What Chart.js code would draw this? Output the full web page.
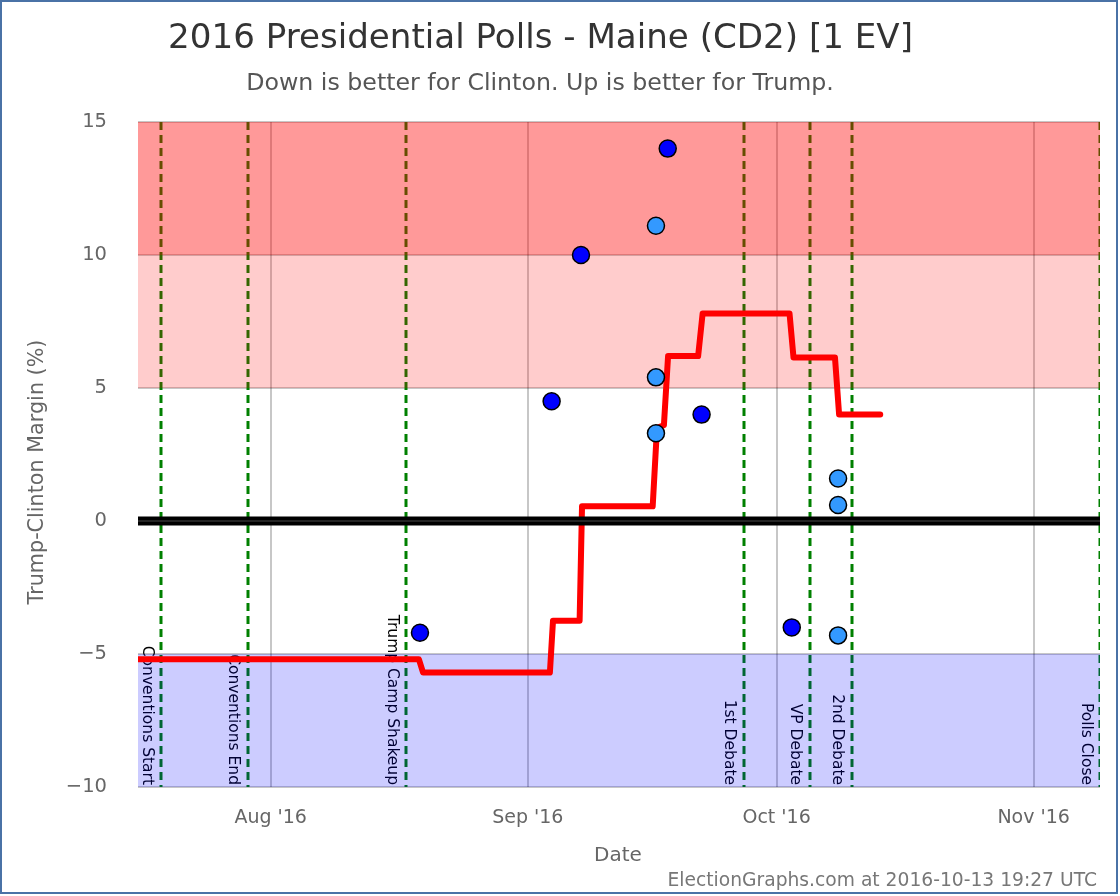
<!DOCTYPE html>
<html><head><meta charset="utf-8">
<script src="https://cdn.jsdelivr.net/npm/chart.js@4.4.1/dist/chart.umd.min.js"></script>
<style>
html,body{margin:0;padding:0;background:#fff;}
#wrap{position:absolute;left:0;top:0;width:1114px;height:890px;border:2px solid #4a72a6;background:#fff;}
canvas{display:block;}
</style></head><body>
<div id="wrap"><canvas id="c" width="1114" height="890"></canvas></div>
<script>
// ---- data ----
const chartTitle = '2016 Presidential Polls - Maine (CD2) [1 EV]';
const chartSubtitle = 'Down is better for Clinton. Up is better for Trump.';
const yAxisTitle = 'Trump-Clinton Margin (%)';
const xAxisTitle = 'Date';
const footerText = 'ElectionGraphs.com at 2016-10-13 19:27 UTC';

const xStart = '2016-07-16T00:00';
const xEnd = '2016-11-09T00:00';
const tickDates = ['2016-08-01T00:00','2016-09-01T00:00','2016-10-01T00:00','2016-11-01T00:00'];
const tickLabels = ["Aug '16","Sep '16","Oct '16","Nov '16"];
const yTicks = [-10,-5,0,5,10,15];

const avgDates = ['2016-07-16T00:00','2016-08-18T21:00','2016-08-19T09:00','2016-09-03T16:00','2016-09-04T01:00','2016-09-07T06:00','2016-09-07T13:00','2016-09-16T01:30','2016-09-16T14:00','2016-09-17T10:00','2016-09-17T22:00','2016-09-21T13:00','2016-09-22T02:00','2016-10-02T13:30','2016-10-03T01:00','2016-10-08T01:00','2016-10-08T13:00','2016-10-13T12:00'];
const avgMargins = [-5.2,-5.2,-5.7,-5.7,-3.75,-3.75,0.55,0.55,3.5,3.6,6.2,6.2,7.8,7.8,6.15,6.15,4.0,4.0];

const pollDatesA = ['2016-08-19T00:00','2016-09-03T21:00','2016-09-07T10:00','2016-09-17T21:00','2016-09-21T23:00','2016-10-02T20:00'];
const pollMarginsA = [-4.2,4.5,10,14,4,-4];
const pollDatesB = ['2016-09-16T11:00','2016-09-16T11:00','2016-09-16T11:00','2016-10-08T10:00','2016-10-08T10:00','2016-10-08T10:00'];
const pollMarginsB = [11.1,5.4,3.3,1.6,0.6,-4.3];

const eventDates = ['2016-07-18T20:00','2016-07-29T06:00','2016-08-17T08:00','2016-09-27T01:00','2016-10-05T00:00','2016-10-10T02:00','2016-11-09T00:00'];
const eventNames = ['Conventions Start','Conventions End','Trump Camp Shakeup','1st Debate','VP Debate','2nd Debate','Polls Close'];

const bandLows = [10,5,-10];
const bandHighs = [15,10,-5];

// ---- helpers ----
const T0 = Date.UTC(2016,6,16);
const toDay = s => (Date.parse(s + 'Z') - T0) / 864e5;
const xy = (ds, vs) => ds.map((d,i) => ({x: toDay(d), y: vs[i]}));
const FONT = '"DejaVu Sans", Verdana, sans-serif';
const tickDays = tickDates.map(toDay);

function fitFont(ctx, text, width, base) {
  ctx.font = base + 'px ' + FONT;
  const w = ctx.measureText(text).width;
  return (base * width / w);
}

const decor = {
  id: 'decor',
  beforeDatasetsDraw(chart) {
    const {ctx, chartArea: a, scales: {x, y}} = chart;
    ctx.save();
    ctx.beginPath(); ctx.rect(a.left, a.top, a.right - a.left, a.bottom - a.top); ctx.clip();
    ctx.strokeStyle = 'rgb(0,128,0)';
    ctx.lineWidth = 3;
    ctx.setLineDash([8,5]);
    eventDates.forEach(d => {
      const px = Math.round(x.getPixelForValue(toDay(d)));
      ctx.beginPath(); ctx.moveTo(px, a.top); ctx.lineTo(px, a.bottom); ctx.stroke();
    });
    ctx.setLineDash([]);
    ctx.restore();
    ctx.save();
    ctx.fillStyle = '#000';
    ctx.font = '15.5px ' + FONT;
    ctx.textAlign = 'right';
    ctx.textBaseline = 'alphabetic';
    eventDates.forEach((d,i) => {
      const px = x.getPixelForValue(toDay(d));
      ctx.save();
      ctx.translate(px - 18.5, a.bottom - 2);
      ctx.rotate(Math.PI/2);
      ctx.fillText(eventNames[i], 0, 0);
      ctx.restore();
    });
    ctx.restore();
    ctx.save();
    const cols = ['rgba(255,0,0,0.4)','rgba(255,0,0,0.2)','rgba(0,0,255,0.2)'];
    bandLows.forEach((lo,i) => {
      const yt = y.getPixelForValue(bandHighs[i]);
      const yb = y.getPixelForValue(lo);
      ctx.fillStyle = cols[i];
      ctx.fillRect(a.left, yt, a.right - a.left, yb - yt);
    });
    ctx.restore();
  },
  afterDraw(chart) {
    const {ctx} = chart;
    ctx.save();
    ctx.fillStyle = '#333';
    ctx.textAlign = 'center';
    ctx.textBaseline = 'alphabetic';
    let fs = fitFont(ctx, chartTitle, 745, 36);
    ctx.font = fs + 'px ' + FONT;
    ctx.fillText(chartTitle, 538.5, 46);
    ctx.fillStyle = '#555';
    fs = fitFont(ctx, chartSubtitle, 588, 22);
    ctx.font = fs + 'px ' + FONT;
    ctx.fillText(chartSubtitle, 538, 88);
    ctx.fillStyle = '#666';
    ctx.font = '20px ' + FONT;
    ctx.fillText(xAxisTitle, 616, 859);
    fs = fitFont(ctx, yAxisTitle, 265, 20);
    ctx.font = fs + 'px ' + FONT;
    ctx.save();
    ctx.translate(36, 470);
    ctx.rotate(-Math.PI/2);
    ctx.textBaseline = 'middle';
    ctx.fillText(yAxisTitle, 0, 0);
    ctx.restore();
    ctx.fillStyle = '#777';
    ctx.textAlign = 'right';
    fs = fitFont(ctx, footerText, 430, 17);
    ctx.font = fs + 'px ' + FONT;
    ctx.fillText(footerText, 1095, 884);
    ctx.restore();
  }
};

const xMin = toDay(xStart), xMax = toDay(xEnd);

new Chart(document.getElementById('c'), {
  type: 'scatter',
  data: {
    datasets: [
      {type:'scatter', data: xy(pollDatesA, pollMarginsA), backgroundColor:'#0000ff', borderColor:'#000', borderWidth:1.5, pointRadius:8.5, order:0},
      {type:'scatter', data: xy(pollDatesB, pollMarginsB), backgroundColor:'#3399ff', borderColor:'#000', borderWidth:1.5, pointRadius:8.5, order:0},
      {type:'line', data: [{x:xMin,y:0},{x:xMax,y:0}], borderColor:'rgba(50,50,50,1)', borderWidth:1.5, pointRadius:0, order:1},
      {type:'line', data: [{x:xMin,y:0},{x:xMax,y:0}], borderColor:'#000', borderWidth:9, pointRadius:0, order:2},
      {type:'line', data: xy(avgDates, avgMargins), borderColor:'#ff0000', borderWidth:6, pointRadius:0, tension:0, borderJoinStyle:'round', borderCapStyle:'round', order:3}
    ]
  },
  options: {
    responsive:false, animation:false, events:[],
    layout:{padding:{top:120,right:16,bottom:0,left:0}},
    plugins:{legend:{display:false}, tooltip:{enabled:false}, title:{display:false}},
    scales:{
      x:{type:'linear', min:xMin, max:xMax,
        afterBuildTicks: s => { s.ticks = tickDays.map(v => ({value:v})); },
        afterFit: s => { s.height = 105; },
        ticks:{callback:(v,i) => tickLabels[i], font:{family:FONT, size:19}, color:'#666', padding:20, maxRotation:0, autoSkip:false},
        grid:{color:'rgba(0,0,0,0.22)', lineWidth:2, drawTicks:false},
        border:{display:false}
      },
      y:{type:'linear', min:-10, max:15,
        afterBuildTicks: s => { s.ticks = yTicks.map(v => ({value:v})); },
        afterFit: s => { s.width = 136; },
        ticks:{callback:v => String(v).replace('-', '\u2212'), font:{family:FONT, size:19.5}, color:'#666', padding:31},
        grid:{color:'rgba(0,0,0,0.22)', lineWidth:2, drawTicks:false},
        border:{display:false}
      }
    }
  },
  plugins:[decor]
});
</script>
</body></html>
